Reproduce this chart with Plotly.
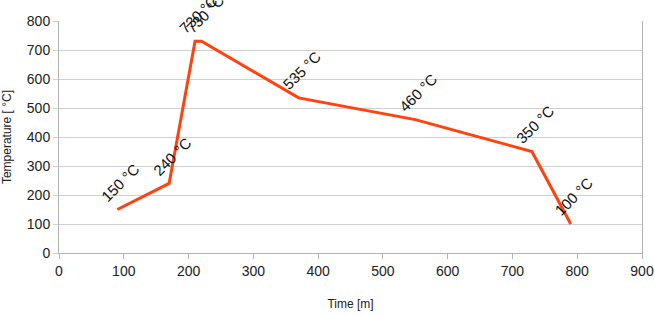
import plotly.graph_objects as go

time_m = [90, 170, 210, 220, 370, 550, 730, 790]
temps = [150, 240, 730, 730, 535, 460, 350, 100]
labels = ["150 °C", "240 °C", "730 °C", "730 °C", "535 °C", "460 °C", "350 °C", "100 °C"]

x_ticks = list(range(0, 901, 100))
y_ticks = list(range(0, 801, 100))

fig = go.Figure()
fig.add_trace(go.Scatter(x=time_m, y=temps, mode="lines",
                         line=dict(color="#FF420E", width=3), hoverinfo="skip"))

for xv, yv, t in zip(time_m, temps, labels):
    fig.add_annotation(x=xv, y=yv, text=t, showarrow=False, textangle=-45,
                       xanchor="center", yanchor="bottom", yshift=2, xshift=3,
                       font=dict(family="Liberation Sans, Arial", size=15, color="#111"))

fig.update_layout(
    width=655, height=315,
    margin=dict(l=59, r=13, t=21, b=62),
    paper_bgcolor="white", plot_bgcolor="white",
    showlegend=False,
    font=dict(family="Liberation Sans, Arial", size=14, color="#222"),
    xaxis=dict(range=[0, 900], tickvals=x_ticks, showgrid=False, zeroline=False,
               showline=True, linecolor="#b3b3b3", linewidth=1, mirror=False,
               ticks="outside", ticklen=5, tickcolor="#b3b3b3", automargin=False,
               title=dict(text="Time [m]", font=dict(size=12), standoff=21)),
    yaxis=dict(range=[0, 800], tickvals=y_ticks, showgrid=True, gridcolor="#d0d0d0",
               zeroline=False, showline=True, linecolor="#b3b3b3", linewidth=1, mirror=True,
               ticks="outside", ticklen=5, tickcolor="#d0d0d0", automargin=False,
               title=dict(text="Temperature [ °C]", font=dict(size=12), standoff=20)),
)

fig.write_html("out.html")
